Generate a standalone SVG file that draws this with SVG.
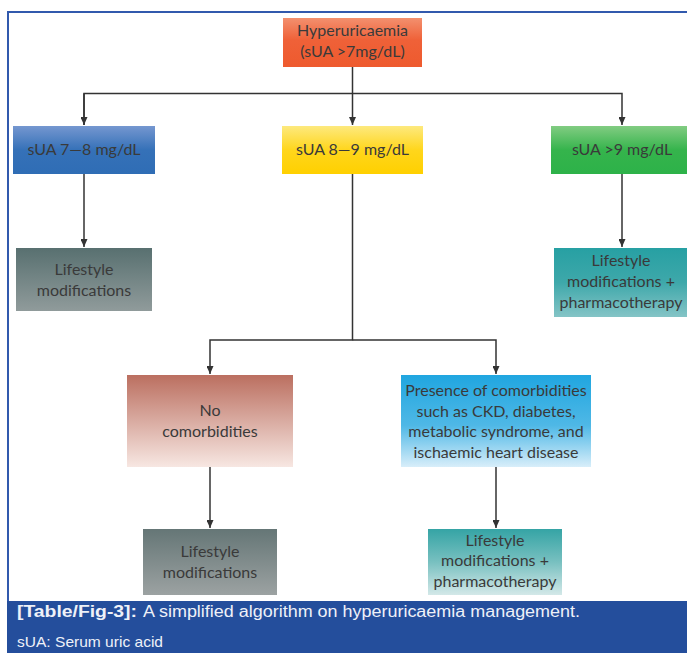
<svg xmlns="http://www.w3.org/2000/svg" width="687" height="653" viewBox="0 0 687 653">
<defs>
<linearGradient id="gRed" x1="0" y1="0" x2="0" y2="1"><stop offset="0" stop-color="#f3906f"/><stop offset="0.45" stop-color="#ef6138"/><stop offset="1" stop-color="#ee5a2e"/></linearGradient>
<linearGradient id="gBlue" x1="0" y1="0" x2="0" y2="1"><stop offset="0" stop-color="#7597d0"/><stop offset="0.5" stop-color="#3571b8"/><stop offset="1" stop-color="#2f6db5"/></linearGradient>
<linearGradient id="gYellow" x1="0" y1="0" x2="0" y2="1"><stop offset="0" stop-color="#fde97e"/><stop offset="0.5" stop-color="#ffd61c"/><stop offset="1" stop-color="#ffd000"/></linearGradient>
<linearGradient id="gGreen" x1="0" y1="0" x2="0" y2="1"><stop offset="0" stop-color="#82cc82"/><stop offset="0.5" stop-color="#35b44c"/><stop offset="1" stop-color="#2db249"/></linearGradient>
<linearGradient id="gGray1" x1="0" y1="0" x2="0" y2="1"><stop offset="0" stop-color="#587070"/><stop offset="1" stop-color="#909b9b"/></linearGradient>
<linearGradient id="gTeal1" x1="0" y1="0" x2="0" y2="1"><stop offset="0" stop-color="#27a0a3"/><stop offset="0.5" stop-color="#3ea8aa"/><stop offset="1" stop-color="#84c4c6"/></linearGradient>
<linearGradient id="gRose" x1="0" y1="0" x2="0" y2="1"><stop offset="0" stop-color="#bb6f60"/><stop offset="1" stop-color="#f7e7e2"/></linearGradient>
<linearGradient id="gSky" x1="0" y1="0" x2="0" y2="1"><stop offset="0" stop-color="#20a6e0"/><stop offset="0.55" stop-color="#4fb8e6"/><stop offset="1" stop-color="#d8eefa"/></linearGradient>
<linearGradient id="gGray2" x1="0" y1="0" x2="0" y2="1"><stop offset="0" stop-color="#657676"/><stop offset="1" stop-color="#9ca2a2"/></linearGradient>
<linearGradient id="gTeal2" x1="0" y1="0" x2="0" y2="1"><stop offset="0" stop-color="#35a4a5"/><stop offset="0.5" stop-color="#78c0c0"/><stop offset="1" stop-color="#d3e8e8"/></linearGradient>
<marker id="arr" viewBox="0 0 8 7" refX="8" refY="3.5" markerWidth="8" markerHeight="7" markerUnits="userSpaceOnUse" orient="auto"><path d="M0,0 L8,3.5 L0,7 Z" fill="#333"/></marker>
</defs>
<style>
.lbl{font-family:Lato,"Open Sans","Liberation Sans",sans-serif;font-size:16px;fill:#3a3a3a;text-anchor:middle}
.box{stroke:none}
.con{fill:none;stroke:#333;stroke-width:1.5}
.cap{font-family:"Liberation Sans",Arial,sans-serif;fill:#eef1f8}
</style>
<rect width="687" height="653" fill="#ffffff"/>
<path d="M8,601 L8,12 L687,12" fill="none" stroke="#3159ad" stroke-width="2"/>

<g id="connectors">
<path class="con" d="M352.5,67 L352.5,125" marker-end="url(#arr)"/>
<path class="con" d="M84,125 L84,93.5 L622,93.5 L622,125" marker-end="url(#arr)"/>
<path class="con" d="M84,93.5 L84,125" marker-end="url(#arr)"/>
<path class="con" d="M84,174 L84,247" marker-end="url(#arr)"/>
<path class="con" d="M622,174 L622,247" marker-end="url(#arr)"/>
<path class="con" d="M352.5,174 L352.5,340 L210,340 L210,374" marker-end="url(#arr)"/>
<path class="con" d="M352.5,340 L496,340 L496,374" marker-end="url(#arr)"/>
<path class="con" d="M210,467 L210,528" marker-end="url(#arr)"/>
<path class="con" d="M496,467 L496,528" marker-end="url(#arr)"/>
</g>

<g id="n-hyper">
<rect class="box" x="283" y="18" width="139" height="49" fill="url(#gRed)"/>
<text class="lbl" x="352.5" y="36">Hyperuricaemia</text>
<text class="lbl" x="352.5" y="57">(sUA &gt;7mg/dL)</text>
</g>
<g id="n-7-8">
<rect class="box" x="13" y="126" width="142" height="48" fill="url(#gBlue)"/>
<text class="lbl" x="84" y="154.5">sUA 7—8 mg/dL</text>
</g>
<g id="n-8-9">
<rect class="box" x="282" y="126" width="141" height="48" fill="url(#gYellow)"/>
<text class="lbl" x="352.5" y="154.5">sUA 8—9 mg/dL</text>
</g>
<g id="n-9">
<rect class="box" x="551" y="126" width="142" height="48" fill="url(#gGreen)"/>
<text class="lbl" x="622" y="154.5">sUA &gt;9 mg/dL</text>
</g>
<g id="n-life1">
<rect class="box" x="16" y="248" width="136" height="63" fill="url(#gGray1)"/>
<text class="lbl" x="84" y="275">Lifestyle</text>
<text class="lbl" x="84" y="295.5">modifications</text>
</g>
<g id="n-lifepharm1">
<rect class="box" x="554" y="248" width="136" height="69" fill="url(#gTeal1)"/>
<text class="lbl" x="621" y="266">Lifestyle</text>
<text class="lbl" x="621" y="286.5">modifications +</text>
<text class="lbl" x="621" y="307.5">pharmacotherapy</text>
</g>
<g id="n-nocomorb">
<rect class="box" x="127" y="375" width="166" height="92" fill="url(#gRose)"/>
<text class="lbl" x="210" y="416">No</text>
<text class="lbl" x="210" y="437">comorbidities</text>
</g>
<g id="n-comorb">
<rect class="box" x="401" y="375" width="190" height="92" fill="url(#gSky)"/>
<text class="lbl" x="496" y="396">Presence of comorbidities</text>
<text class="lbl" x="496" y="416.5">such as CKD, diabetes,</text>
<text class="lbl" x="496" y="437">metabolic syndrome, and</text>
<text class="lbl" x="496" y="457.5">ischaemic heart disease</text>
</g>
<g id="n-life2">
<rect class="box" x="143" y="529" width="134" height="66" fill="url(#gGray2)"/>
<text class="lbl" x="210" y="557">Lifestyle</text>
<text class="lbl" x="210" y="577.5">modifications</text>
</g>
<g id="n-lifepharm2">
<rect class="box" x="428" y="529" width="134" height="66" fill="url(#gTeal2)"/>
<text class="lbl" x="495" y="545.5">Lifestyle</text>
<text class="lbl" x="495" y="566">modifications +</text>
<text class="lbl" x="495" y="587">pharmacotherapy</text>
</g>

<g id="caption">
<rect x="7" y="601" width="680" height="52" fill="#244e9c"/>
<text class="cap" x="17" y="617" font-size="16" font-weight="bold" textLength="120" lengthAdjust="spacingAndGlyphs">[Table/Fig-3]:</text>
<text class="cap" x="143" y="617" font-size="16" textLength="437" lengthAdjust="spacingAndGlyphs">A simplified algorithm on hyperuricaemia management.</text>
<text class="cap" x="17" y="647" font-size="15" textLength="146" lengthAdjust="spacingAndGlyphs">sUA: Serum uric acid</text>
</g>
</svg>
